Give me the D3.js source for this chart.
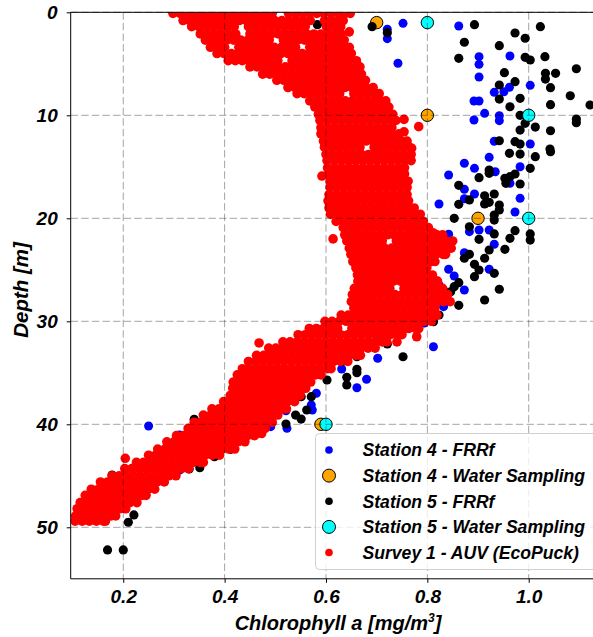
<!doctype html>
<html>
<head>
<script src="https://cdn.jsdelivr.net/npm/d3@7"></script>
<style>
body{margin:0;background:#fff}
svg text{font-family:"Liberation Sans",Arial,sans-serif;font-weight:bold;font-style:italic;fill:#000}
</style>
</head>
<body>
<svg width="593" height="637"></svg>
<script>
// [chl, depth]
const st4Frrf = [[.752,1.07],[.721,1.65],[.721,2.56],[.742,4.95],[.862,1.33],[.902,4.31],[.902,5.05],[.902,6.28],[.963,4.24],[1.003,7.09],[.932,7.77],[.951,7.71],[.962,7.28],[.892,8.61],[.902,8.61],[.913,9.81],[.942,10.04],[.942,10.52],[.892,10.46],[1.003,12.79],[.932,12.52],[.922,14.08],[.873,14.66],[.893,15.15],[.983,14.99],[.842,15.8],[.934,15.48],[.963,16.6],[.873,17.18],[.893,17.64],[.873,18.1],[.983,18.06],[.823,18.61],[.973,19.39],[.902,21.14],[.922,21.14],[.842,21.55],[.932,22.52],[.883,21.3],[.873,23.34],[.842,24.95],[.853,25.6],[.922,24.95],[.873,26.96],[.832,28.58],[.812,32.47],[.823,26.48],[.701,31.82],[.702,33.59],[.631,34.63],[.680,35.63],[.661,36.45],[.581,36.99],[.571,38.13],[.521,38.68],[.491,40.23],[.250,40.17],[.311,41.04],[.311,44.44],[.523,40.39],[.573,38.61],[.794,30.17],[.772,21.3],[.832,26.96]];
const st4Water = [[.70,1],[.80,10],[.90,20],[.59,40]];
const st5Frrf = [[.893,1.2],[.721,1.98],[1.023,1.4],[.973,2.01],[.993,2.52],[.873,2.91],[.942,3.24],[.862,4.47],[.993,4.37],[1.003,4.63],[1.032,4.31],[.952,5.86],[1.033,5.92],[1.033,6.48],[1.053,5.92],[1.094,5.48],[.942,7.06],[.973,6.74],[1.043,7.32],[.942,8.42],[.983,8.35],[1.082,8.1],[.963,9.17],[1.043,8.97],[1.121,9.0],[.983,10.0],[.993,10.78],[1.013,11.14],[1.094,10.36],[1.094,10.72],[.983,11.43],[1.043,11.5],[.942,12.47],[.973,12.56],[.983,12.79],[1.042,13.27],[.962,13.69],[.983,13.76],[1.013,14.02],[1.043,13.53],[1.003,15.15],[.922,15.31],[.922,15.63],[.902,16.06],[.953,16.12],[.963,15.96],[.973,15.7],[.983,16.67],[.955,16.6],[.862,16.8],[.913,17.81],[.932,17.64],[.883,18.22],[.862,18.64],[.913,18.61],[.922,18.45],[.942,18.71],[.942,19.19],[.932,19.68],[.932,20.17],[.853,20.0],[.883,20.82],[.932,21.52],[1.003,21.52],[1.003,22.11],[.973,21.2],[.963,21.94],[.902,22.04],[.922,23.08],[.953,23.01],[.883,23.5],[.873,23.88],[.913,23.88],[.893,24.47],[.902,25.02],[.932,25.34],[.893,25.67],[.862,26.25],[.853,26.64],[.846,27.13],[.942,26.89],[.913,27.93],[.862,28.45],[.812,26.64],[.823,29.39],[.812,29.71],[.721,32.2],[.812,30.04],[.752,33.44],[.631,33.92],[.661,33.44],[.661,34.66],[.661,34.99],[.641,35.44],[.641,36.18],[.602,35.7],[.562,35.53],[.551,37.32],[.571,37.32],[.540,39.1],[.551,39.49],[.562,38.61],[.521,39.97],[.470,40.72],[.340,39.51],[.380,43.15],[.371,42.82],[.330,44.34],[.351,44.21],[.412,42.43],[.178,44.92],[.191,48.1],[.221,48.8],[.210,49.51],[.169,52.2],[.200,52.2],[.583,1.2],[.691,1.4]];
const st5Water = [[.80,1],[1.00,10],[1.00,20],[.60,40]];

// AUV survey: each row = [depth, chl, chl, ...]
const surveyRows = [
[0.1,.298,.312,.326,.340,.354,.368,.382,.396,.410,.424,.438,.452,.466,.480,.494,.526,.540,.554,.568,.582,.596,.610,.624,.638,.648],
[0.8,.318,.331,.345,.359,.373,.387,.401,.415,.429,.443,.457,.471,.485,.499,.513,.527,.541,.555,.569,.597,.611,.625,.634],
[1.4,.335,.349,.363,.377,.391,.405,.419,.447,.461,.475,.489,.503,.517,.531,.545,.559,.601,.615,.629],
[2.1,.352,.366,.380,.394,.408,.422,.450,.464,.478,.492,.506,.520,.534,.548,.562,.576,.590,.604,.618,.630],
[2.7,.362,.376,.390,.404,.418,.432,.446,.460,.474,.488,.516,.530,.544,.558,.572,.586,.600,.614,.628,.636],
[3.4,.372,.386,.400,.428,.442,.456,.470,.484,.498,.512,.526,.540,.568,.582,.596,.610,.624,.638,.646],
[4.0,.385,.399,.413,.427,.441,.455,.469,.483,.497,.511,.525,.539,.553,.567,.581,.595,.609,.623,.637,.650],
[4.7,.407,.421,.435,.449,.463,.477,.491,.505,.533,.547,.561,.575,.589,.603,.617,.631,.645,.660],
[5.3,.450,.464,.478,.492,.506,.520,.534,.548,.562,.576,.590,.604,.618,.632,.646,.660,.667],
[6.0,.475,.489,.503,.517,.531,.545,.559,.573,.587,.601,.615,.629,.643,.657,.670],
[6.6,.503,.517,.531,.545,.559,.573,.587,.601,.615,.629,.643,.657,.671,.678],
[7.3,.525,.539,.553,.567,.581,.595,.609,.623,.637,.651,.665,.679,.693],
[7.9,.543,.557,.571,.585,.599,.613,.627,.655,.669,.683,.697,.705],
[8.6,.568,.582,.596,.610,.624,.638,.652,.666,.680,.694,.708,.718],
[9.2,.578,.592,.606,.620,.634,.648,.662,.676,.690,.704,.718,.724],
[9.9,.585,.599,.613,.627,.641,.655,.669,.683,.697,.711,.725,.732],
[10.5,.588,.602,.616,.630,.644,.658,.672,.686,.700,.714,.728,.738],
[11.2,.590,.604,.618,.632,.646,.660,.674,.688,.702,.716,.730],
[11.8,.590,.604,.618,.632,.646,.660,.674,.688,.702,.716,.730,.744],
[12.5,.595,.609,.623,.637,.651,.665,.679,.693,.707,.721,.735,.749,.760],
[13.1,.597,.611,.625,.639,.653,.667,.695,.709,.723,.737,.751,.765],
[13.8,.600,.614,.628,.642,.656,.670,.684,.698,.712,.726,.740,.754,.768],
[14.4,.602,.616,.630,.644,.658,.672,.686,.700,.714,.728,.742,.756,.768],
[15.1,.603,.617,.631,.645,.659,.673,.687,.701,.715,.729,.743,.755],
[15.7,.605,.619,.633,.647,.661,.675,.689,.703,.717,.731,.745,.755],
[16.4,.608,.622,.636,.650,.664,.678,.692,.706,.720,.734,.748,.762],
[17.0,.608,.622,.636,.650,.664,.678,.692,.706,.720,.734,.748,.760],
[17.7,.606,.620,.634,.648,.662,.676,.690,.704,.718,.732,.746,.760],
[18.3,.604,.618,.632,.646,.660,.674,.688,.702,.716,.730,.744,.758,.763],
[19.0,.606,.620,.634,.648,.662,.676,.690,.704,.718,.732,.746,.760,.774],
[19.6,.609,.623,.637,.651,.665,.679,.693,.707,.721,.735,.749,.763,.777,.786],
[20.3,.620,.634,.648,.662,.676,.690,.704,.718,.732,.746,.760,.774,.788,.792],
[20.9,.634,.648,.662,.676,.690,.704,.718,.732,.746,.760,.774,.788,.802],
[21.6,.637,.651,.665,.679,.693,.707,.721,.735,.749,.763,.777,.791,.805,.819,.830],
[22.2,.641,.655,.669,.683,.697,.711,.739,.753,.767,.781,.795,.809,.823,.837,.850],
[22.9,.646,.660,.674,.688,.702,.716,.730,.744,.758,.772,.786,.800,.814,.828,.842,.847],
[23.5,.649,.663,.677,.691,.705,.719,.733,.747,.761,.775,.789,.803,.817,.831,.836],
[24.2,.653,.667,.681,.695,.709,.723,.737,.751,.765,.779,.793,.807,.815],
[24.8,.659,.673,.687,.701,.715,.729,.743,.757,.771,.785,.799],
[25.5,.662,.676,.690,.704,.718,.732,.746,.760,.774,.788,.802,.810],
[26.1,.663,.677,.691,.705,.719,.733,.747,.761,.775,.789,.803,.817,.820],
[26.8,.656,.670,.684,.698,.712,.726,.754,.768,.782,.796,.810,.824,.830],
[27.4,.652,.666,.680,.694,.708,.722,.736,.750,.764,.778,.792,.806,.820,.834,.840],
[28.1,.650,.664,.678,.692,.706,.720,.734,.748,.762,.776,.790,.804,.818,.832,.845],
[28.7,.655,.669,.683,.697,.711,.725,.739,.753,.767,.781,.795,.809,.815],
[29.4,.630,.644,.658,.672,.686,.700,.714,.728,.742,.756,.770,.784,.798,.812,.819],
[30.0,.598,.612,.626,.640,.654,.668,.682,.696,.710,.724,.738,.752,.766,.780,.794,.808],
[30.7,.567,.581,.595,.609,.623,.651,.665,.679,.693,.707,.721,.735,.749,.763,.777,.783],
[31.3,.545,.559,.573,.587,.601,.615,.629,.643,.657,.671,.685,.699,.713,.727,.741,.750],
[32.0,.515,.529,.543,.557,.571,.585,.599,.613,.627,.641,.655,.669,.683,.697,.711,.720],
[32.6,.487,.501,.515,.529,.543,.557,.571,.585,.599,.613,.627,.641,.655,.669,.683,.697],
[33.3,.463,.477,.491,.505,.519,.533,.547,.561,.575,.589,.603,.617,.631,.645,.659,.668],
[33.9,.447,.461,.475,.489,.503,.517,.531,.545,.559,.573,.587,.601,.615,.629,.643],
[34.6,.435,.449,.463,.477,.491,.505,.519,.533,.547,.561,.575,.589,.603,.610],
[35.2,.425,.439,.453,.467,.481,.495,.509,.523,.537,.551,.565,.579,.590],
[35.9,.417,.431,.445,.459,.473,.487,.501,.515,.529,.543,.557,.570],
[36.5,.416,.430,.444,.458,.472,.486,.500,.514,.528,.542,.556,.560],
[37.2,.411,.425,.439,.453,.467,.481,.495,.509,.523,.537,.549],
[37.8,.398,.412,.426,.440,.454,.468,.482,.496,.510,.524,.538],
[38.5,.375,.389,.403,.417,.431,.445,.459,.473,.487,.501,.515,.522],
[39.1,.358,.372,.386,.400,.414,.428,.442,.456,.470,.484,.498,.505],
[39.8,.340,.354,.368,.382,.396,.410,.424,.438,.452,.466,.480,.494],
[40.4,.328,.342,.356,.370,.384,.398,.412,.426,.440,.454,.468,.480],
[41.1,.305,.319,.333,.347,.361,.375,.389,.403,.417,.431,.445,.459],
[41.7,.286,.300,.314,.328,.342,.356,.370,.384,.398,.412,.426,.440],
[42.4,.268,.282,.296,.310,.324,.338,.352,.366,.380,.394,.408,.420],
[43.0,.250,.264,.278,.292,.306,.320,.334,.348,.362,.376,.390],
[43.7,.226,.240,.254,.268,.282,.296,.310,.324,.338,.352,.358],
[44.3,.203,.217,.231,.245,.259,.273,.287,.301,.315,.329],
[45.0,.178,.192,.206,.220,.234,.248,.262,.276,.290,.304],
[45.6,.155,.169,.183,.197,.211,.225,.239,.253,.267,.281],
[46.3,.137,.151,.165,.179,.193,.207,.221,.235,.249,.262],
[46.9,.125,.139,.153,.167,.181,.195,.209,.223,.237,.245],
[47.6,.115,.129,.143,.157,.171,.185,.199,.213,.227],
[48.2,.109,.123,.137,.151,.165,.179,.193,.205],
[48.9,.106,.120,.134,.148,.162,.176,.185],
[49.4,.105,.119,.133,.147,.161,.165]
];
const surveyExtra = [[.646,1.9],[.754,10.4],[.783,11.1],[.754,11.6],[.740,12.7],[.769,13.2],[.592,15.9],[.614,22.0],[.811,21.4],[.779,31.5],[.740,32.0],[.468,32.1],[.473,40.9],[.454,41.0],[.204,43.3]];

const chlTicks = [0.2, 0.4, 0.6, 0.8, 1.0];
const depthTicks = [0, 10, 20, 30, 40, 50];
const legendLabels = ["Station 4 - FRRf", "Station 4 - Water Sampling", "Station 5 - FRRf", "Station 5 - Water Sampling", "Survey 1 - AUV (EcoPuck)"];

const svg = d3.select("svg");
const pLeft = 70.7, pTop = 12.3, pRight = 594.6, pBottom = 578.8;
const x = d3.scaleLinear().domain([0.0963, 1.13]).range([pLeft, pRight]);
const y = d3.scaleLinear().domain([0, 55]).range([pTop, pBottom]);

svg.append("clipPath").attr("id", "plot")
  .append("rect").attr("x", pLeft).attr("y", pTop).attr("width", pRight - pLeft).attr("height", pBottom - pTop);

const g = svg.append("g").attr("clip-path", "url(#plot)");

function dots(data, cls, r, fill, stroke) {
  g.selectAll("circle." + cls).data(data).enter().append("circle")
    .attr("class", cls)
    .attr("cx", d => x(d[0])).attr("cy", d => y(d[1])).attr("r", r)
    .attr("fill", fill)
    .attr("stroke", stroke || "none").attr("stroke-width", stroke ? 1 : 0);
}

const surveyPts = [];
surveyRows.forEach(row => row.slice(1).forEach(v => surveyPts.push([v, row[0]])));
surveyExtra.forEach(p => surveyPts.push(p));

dots(st4Frrf, "s4f", 4.5, "#0000ff");
dots(st4Water, "s4w", 6.2, "#ffa500", "#000");
dots(st5Frrf, "s5f", 4.6, "#000");
dots(st5Water, "s5w", 6.2, "#00ffff", "#000");
dots(surveyPts, "auv", 4.8, "#ff0000");

// grid (drawn above the points, like the original)
const grid = svg.append("g").attr("stroke", "#000").attr("stroke-opacity", 0.36)
  .attr("stroke-width", 1).attr("stroke-dasharray", "7.4,3.2");
grid.selectAll("line.v").data(chlTicks).enter().append("line")
  .attr("x1", d => x(d)).attr("x2", d => x(d)).attr("y1", pTop).attr("y2", pBottom);
grid.selectAll("line.h").data(depthTicks).enter().append("line")
  .attr("y1", d => y(d)).attr("y2", d => y(d)).attr("x1", pLeft).attr("x2", pRight);

// axes
const xAxis = svg.append("g").attr("transform", `translate(0,${pBottom})`)
  .call(d3.axisBottom(x).tickValues(chlTicks).tickFormat(d3.format(".1f")).tickSize(4).tickPadding(7));
const yAxis = svg.append("g").attr("transform", `translate(${pLeft},0)`)
  .call(d3.axisLeft(y).tickValues(depthTicks).tickSize(4).tickPadding(9));
[xAxis, yAxis].forEach(a => {
  a.select(".domain").remove();
  a.selectAll("line").attr("stroke", "#000");
  a.selectAll("text").attr("font-size", 19).attr("font-family", null);
});
svg.append("line").attr("x1", pLeft).attr("x2", pRight).attr("y1", pTop).attr("y2", pTop).attr("stroke", "#000");
svg.append("line").attr("x1", pLeft).attr("x2", pRight).attr("y1", pBottom).attr("y2", pBottom).attr("stroke", "#000");
svg.append("line").attr("x1", pLeft).attr("x2", pLeft).attr("y1", pTop).attr("y2", pBottom).attr("stroke", "#000");

// titles
const xt = svg.append("text").attr("x", 338).attr("y", 630).attr("text-anchor", "middle").attr("font-size", 20);
xt.append("tspan").text("Chlorophyll a [mg/m");
xt.append("tspan").attr("dy", -8).attr("font-size", 12).text("3");
xt.append("tspan").attr("dy", 8).text("]");
svg.append("text").attr("transform", "translate(28,290) rotate(-90)")
  .attr("text-anchor", "middle").attr("font-size", 20.5).text("Depth [m]");

// legend
const lg = svg.append("g");
lg.append("rect").attr("x", 315.5).attr("y", 433.5).attr("width", 290).attr("height", 136).attr("rx", 4)
  .attr("fill", "#fff").attr("fill-opacity", 0.8).attr("stroke", "#d0d0d0");
const legendMarks = [
  {r: 3.8, fill: "#0000ff"}, {r: 6.5, fill: "#ffa500", stroke: "#000"},
  {r: 3.8, fill: "#000"}, {r: 6.5, fill: "#00ffff", stroke: "#000"}, {r: 3.8, fill: "#ff0000"}
];
const rowY = d3.scaleLinear().domain([0, 4]).range([450, 552.5]);
const items = lg.selectAll("g.item").data(legendLabels).enter().append("g")
  .attr("transform", (d, i) => `translate(0,${rowY(i)})`);
items.append("circle").attr("cx", 329).attr("cy", 0)
  .attr("r", (d, i) => legendMarks[i].r).attr("fill", (d, i) => legendMarks[i].fill)
  .attr("stroke", (d, i) => legendMarks[i].stroke || "none");
items.append("text").attr("x", 362.5).attr("y", 6.3).attr("font-size", 17.6).text(d => d);
</script>
</body>
</html>
